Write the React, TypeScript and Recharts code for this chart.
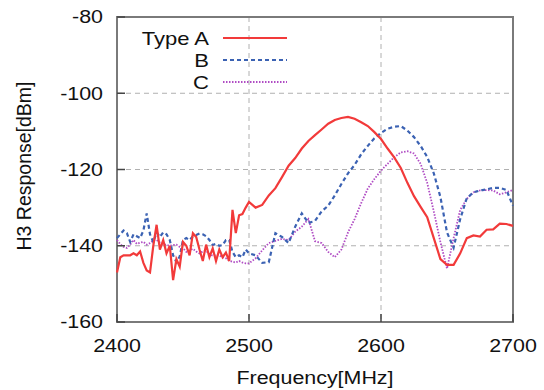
import {
  LineChart,
  Line,
  XAxis,
  YAxis,
  CartesianGrid,
  ReferenceArea,
  Label,
} from "recharts";

// frequency grid [MHz]: 2.5 MHz steps up to 2500, then 5 MHz
const FREQ = [
  2400, 2402.5, 2405, 2407.5, 2410, 2412.5, 2415, 2417.5, 2420, 2422.5,
  2425, 2427.5, 2430, 2432.5, 2435, 2437.5, 2440, 2442.5, 2445, 2447.5,
  2450, 2452.5, 2455, 2457.5, 2460, 2462.5, 2465, 2467.5, 2470, 2472.5,
  2475, 2477.5, 2480, 2482.5, 2485, 2487.5, 2490, 2492.5, 2495, 2497.5,
  2500, 2505, 2510, 2515, 2520, 2525, 2530, 2535, 2540, 2545,
  2550, 2555, 2560, 2565, 2570, 2575, 2580, 2585, 2590, 2595,
  2600, 2605, 2610, 2615, 2620, 2625, 2630, 2635, 2640, 2645,
  2650, 2655, 2660, 2665, 2670, 2675, 2680, 2685, 2690, 2695, 2700,
];

const TYPE_A = [
  -147, -143, -142.5, -142.5, -142.5, -142, -142.5, -141.5, -144.5, -146.5,
  -147, -140, -134.5, -141, -138.5, -142, -140, -149, -143.5, -145.5,
  -139, -140, -142.5, -136.7, -137.7, -141, -144, -139.7, -143, -140.7,
  -144, -141, -143, -141.8, -144, -130.6, -136.7, -132, -131.7, -130,
  -128.5, -130, -129.3, -126.8, -124.9, -122, -119, -117, -114.5, -112.5,
  -111, -109.5, -108, -107, -106.5, -106.2, -106.7, -107.6, -108.6, -110.2,
  -112, -114.5, -116.8, -119.6, -123.5, -127, -129.8, -132.5, -138, -143.5,
  -145, -145, -142, -138, -137.3, -137.6, -135.8, -135.7, -134.2, -134.3, -134.8,
];

const TYPE_B = [
  -138, -137, -136, -136.7, -139, -137, -137.5, -138, -136, -131.5,
  -137, -139, -136.5, -137.7, -136.5, -137, -138.5, -142.5, -144.3, -142.8,
  -138.5, -138, -138.5, -137.5, -137.2, -136.8, -137, -137.5, -138.5, -139.8,
  -139.5, -140, -139.8, -138.5, -138.5, -141.6, -143, -142.5, -143, -141,
  -142, -142.5, -144.5, -144.3, -136.7, -137.7, -139.3, -135, -131.5, -134,
  -133.5, -131, -129.5, -126.8, -123.8, -121, -118.8, -116, -113.8, -111.8,
  -110.4, -109.3, -108.8, -108.6, -109.8, -111.5, -113.8, -116.7, -121, -127.2,
  -136.5, -140.5, -133, -127.5, -126, -125.5, -125.2, -124.8, -124.8, -125.4, -129.5,
];

const TYPE_C = [
  -138.5, -139.6, -140.3, -140.6, -139.7, -138.5, -139.5, -139.2, -139, -139.7,
  -139.3, -138.6, -138.5, -139.2, -139.5, -139.8, -140, -139.8, -139.7, -140.3,
  -140.6, -141.6, -141.2, -140.8, -141.5, -142, -141.5, -141.3, -142.2, -142.6,
  -142.4, -142.6, -143, -143.3, -143.9, -144.2, -144.4, -144, -144.4, -144.6,
  -144.6, -143.3, -141.2, -139.3, -138.7, -138.2, -138.5, -136.3, -135, -133,
  -138.8, -139.3, -141.6, -143, -141, -136.5, -133, -128.8, -125, -122.5,
  -120.3, -118.5, -116.8, -115.5, -115.2, -115.8, -118.5, -123.5, -131, -139,
  -146, -138, -130.6, -127.7, -126, -125.5, -125.4, -125.5, -126.5, -126, -125.4,
];

const X_TICKS = [2400, 2500, 2600, 2700];
const Y_TICKS = [-160, -140, -120, -100, -80];

const data = FREQ.map((f, i) => ({
  f,
  a: TYPE_A[i],
  b: TYPE_B[i],
  c: TYPE_C[i],
}));

const FONT = "'Liberation Sans', Arial, sans-serif";
const STRETCH = 1.19;

const XTick = (props: any) => {
  const { x, y, payload } = props;
  return (
    <g transform={`translate(${x},${y})`}>
      <text
        transform={`scale(${STRETCH},1)`}
        textAnchor="middle"
        dy="0.71em"
        fontSize={18}
        fontFamily={FONT}
        fill="#111"
      >
        {payload.value}
      </text>
    </g>
  );
};

const YTick = (props: any) => {
  const { x, y, payload } = props;
  return (
    <g transform={`translate(${x},${y})`}>
      <text
        transform={`scale(${STRETCH},1)`}
        textAnchor="end"
        dy="0.36em"
        fontSize={18}
        fontFamily={FONT}
        fill="#111"
      >
        {payload.value}
      </text>
    </g>
  );
};

const LEGEND = [
  { name: "Type A", color: "#f23a3a", dash: undefined, w: 2.2 },
  { name: "B", color: "#3b62b3", dash: "4 3", w: 2 },
  { name: "C", color: "#b04cc4", dash: "1.5 1.5", w: 1.8 },
];

export default function App() {
  return (
    <div style={{ position: "absolute", left: 0, top: 0, width: 544, height: 390, background: "#fff" }}>
      <LineChart
        width={544}
        height={390}
        data={data}
        margin={{ top: 17, right: 31, left: 0, bottom: 0 }}
      >
        <CartesianGrid
          stroke="#b0b0b0"
          strokeDasharray="5 4"
          horizontalValues={Y_TICKS}
          verticalValues={X_TICKS}
        />
        <XAxis
          dataKey="f"
          type="number"
          domain={[2400, 2700]}
          ticks={X_TICKS}
          height={68}
          axisLine={false}
          tickSize={-8}
          tickMargin={25}
          tickLine={{ stroke: "#444", strokeWidth: 1.5 }}
          tick={<XTick />}
        >
          <Label
            content={(p: any) => {
              const vb = p.viewBox;
              const cx = vb.x + vb.width / 2;
              return (
                <g transform={`translate(${cx},${vb.y + 62})`}>
                  <text
                    transform={`scale(${STRETCH},1)`}
                    textAnchor="middle"
                    fontSize={18}
                    fontFamily={FONT}
                    fill="#111"
                  >
                    Frequency[MHz]
                  </text>
                </g>
              );
            }}
          />
        </XAxis>
        <YAxis
          type="number"
          domain={[-160, -80]}
          ticks={Y_TICKS}
          width={117}
          axisLine={false}
          tickSize={-8}
          tickMargin={22}
          tickLine={{ stroke: "#444", strokeWidth: 1.5 }}
          tick={<YTick />}
        >
          <Label
            content={() => (
              <text
                x={31}
                y={166}
                transform="rotate(-90 31 166)"
                textAnchor="middle"
                fontSize={19.5}
                fontFamily={FONT}
                fill="#111"
              >
                H3 Response[dBm]
              </text>
            )}
          />
        </YAxis>
        <Line
          dataKey="c"
          stroke="#b04cc4"
          strokeWidth={1.8}
          strokeDasharray="1.5 1.5"
          dot={false}
          isAnimationActive={false}
        />
        <Line
          dataKey="b"
          stroke="#3b62b3"
          strokeWidth={2.2}
          strokeDasharray="4 3"
          dot={false}
          isAnimationActive={false}
        />
        <Line
          dataKey="a"
          stroke="#f23a3a"
          strokeWidth={2.2}
          dot={false}
          isAnimationActive={false}
        />
        <ReferenceArea
          x1={2400}
          x2={2700}
          y1={-160}
          y2={-80}
          fill="none"
          stroke="#7a7a7a"
          strokeWidth={2}
          ifOverflow="visible"
        />
      </LineChart>
      <svg
        width={170}
        height={70}
        style={{ position: "absolute", left: 130, top: 26 }}
      >
        {LEGEND.map((s, i) => (
          <g key={s.name}>
            <g transform={`translate(79,${12 + i * 22})`}>
              <text
                transform={`scale(${STRETCH},1)`}
                textAnchor="end"
                dy="0.36em"
                fontSize={18.5}
                fontFamily={FONT}
                fill="#111"
              >
                {s.name}
              </text>
            </g>
            <line
              x1={93}
              x2={157}
              y1={12 + i * 22}
              y2={12 + i * 22}
              stroke={s.color}
              strokeWidth={s.w}
              strokeDasharray={s.dash}
            />
          </g>
        ))}
      </svg>
    </div>
  );
}
